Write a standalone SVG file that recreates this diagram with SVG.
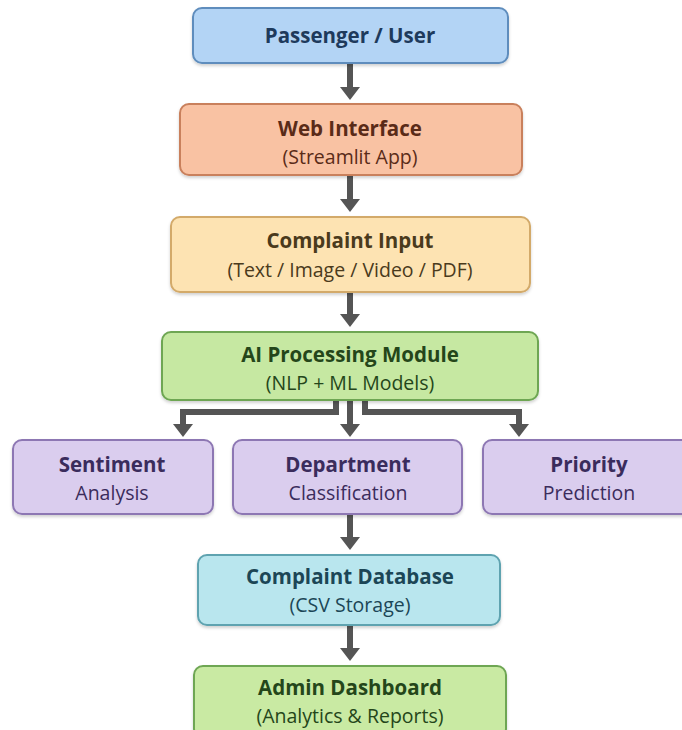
<svg xmlns="http://www.w3.org/2000/svg" width="682" height="730" viewBox="0 0 682 730">
<defs>
<filter id="sh" x="-10%" y="-10%" width="120%" height="130%">
<feDropShadow dx="0" dy="2" stdDeviation="1.5" flood-color="#000" flood-opacity="0.18"/>
</filter>
<marker id="ah" viewBox="0 0 13 20" refX="0" refY="10" markerWidth="13" markerHeight="20" markerUnits="userSpaceOnUse" orient="auto">
<path d="M0,0 L13,10 L0,20 z" fill="#555"/>
</marker>
<style>
rect{stroke-width:2;filter:url(#sh)}
text{font-family:"Open Sans","DejaVu Sans",sans-serif;text-anchor:middle}
.t{font-size:20.5px;font-weight:700}
.s{font-size:19.5px;font-weight:400}
.c{fill:none;stroke:#555;stroke-width:6;marker-end:url(#ah)}
</style>
</defs>
<rect width="682" height="730" fill="#fff" style="filter:none;stroke:none"/>
<g id="connectors">
<path class="c" d="M350,63 V87"/>
<path class="c" d="M350,176 V199"/>
<path class="c" d="M350,293 V314"/>
<path class="c" d="M336,401 V412 H183 V424"/>
<path class="c" d="M350,401 V424"/>
<path class="c" d="M365,401 V412 H519 V424"/>
<path class="c" d="M350,515 V537"/>
<path class="c" d="M350,626 V648"/>
</g>
<g id="passenger">
<rect x="193" y="8" width="315" height="55" rx="9" fill="#b3d4f5" stroke="#5f8dbd"/>
<text class="t" x="350" y="43" fill="#1e3a5c">Passenger / User</text>
</g>
<g id="web">
<rect x="180" y="104" width="342" height="71" rx="9" fill="#f9c2a3" stroke="#c9805c"/>
<text class="t" x="350" y="136" fill="#5a2b18">Web Interface</text>
<text class="s" x="350" y="164" fill="#5a2b18">(Streamlit App)</text>
</g>
<g id="input">
<rect x="171" y="217" width="359" height="75" rx="9" fill="#fde3b2" stroke="#d3aa6a"/>
<text class="t" x="350" y="248" fill="#4a3a1c">Complaint Input</text>
<text class="s" x="350" y="277" fill="#4a3a1c">(Text / Image / Video / PDF)</text>
</g>
<g id="ai">
<rect x="162" y="332" width="376" height="68" rx="9" fill="#c6e8a2" stroke="#6ea653"/>
<text class="t" x="350" y="362" fill="#24461a">AI Processing Module</text>
<text class="s" x="350" y="390" fill="#24461a">(NLP + ML Models)</text>
</g>
<g id="sentiment">
<rect x="13" y="440" width="200" height="74" rx="9" fill="#dacdee" stroke="#8d77b3"/>
<text class="t" x="112" y="472" fill="#3a2c5c">Sentiment</text>
<text class="s" x="112" y="500" fill="#3a2c5c">Analysis</text>
</g>
<g id="department">
<rect x="233" y="440" width="229" height="74" rx="9" fill="#dacdee" stroke="#8d77b3"/>
<text class="t" x="348" y="472" fill="#3a2c5c">Department</text>
<text class="s" x="348" y="500" fill="#3a2c5c">Classification</text>
</g>
<g id="priority">
<rect x="483" y="440" width="210" height="74" rx="9" fill="#dacdee" stroke="#8d77b3"/>
<text class="t" x="589" y="472" fill="#3a2c5c">Priority</text>
<text class="s" x="589" y="500" fill="#3a2c5c">Prediction</text>
</g>
<g id="database">
<rect x="198" y="555" width="302" height="70" rx="9" fill="#b9e6ee" stroke="#5ea3b0"/>
<text class="t" x="350" y="584" fill="#1c4656">Complaint Database</text>
<text class="s" x="350" y="612" fill="#1c4656">(CSV Storage)</text>
</g>
<g id="admin">
<rect x="194" y="666" width="312" height="72" rx="9" fill="#c9eaa3" stroke="#6ea653"/>
<text class="t" x="350" y="695" fill="#24461a">Admin Dashboard</text>
<text class="s" x="350" y="723" fill="#24461a">(Analytics &amp; Reports)</text>
</g>
</svg>
